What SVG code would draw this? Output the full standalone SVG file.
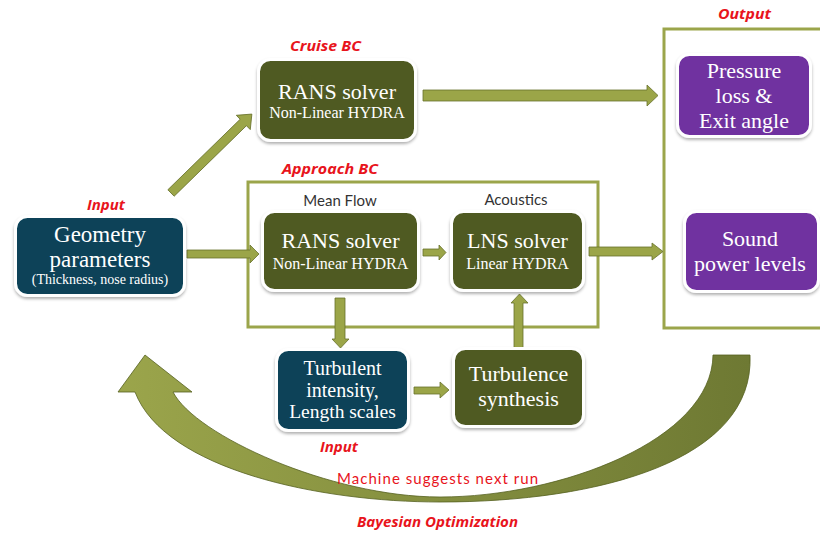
<svg xmlns="http://www.w3.org/2000/svg" width="820" height="534" viewBox="0 0 820 534">
<defs>
<filter id="sh" x="-10%" y="-10%" width="125%" height="130%">
<feDropShadow dx="0" dy="2" stdDeviation="1.6" flood-color="#000" flood-opacity="0.3"/>
</filter>
<linearGradient id="cg" x1="0" y1="0" x2="1" y2="0">
<stop offset="0" stop-color="#9ba54b"/>
<stop offset="1" stop-color="#6e7933"/>
</linearGradient>
</defs>
<style>
.box{stroke:#fff;stroke-width:3;filter:url(#sh)}
.teal{fill:#074359}
.olive{fill:#4f5a23}
.purple{fill:#7030a0}
.st{font-family:"Liberation Serif","Times New Roman",serif;fill:#fff;text-anchor:middle}
.red{font-family:"Open Sans","DejaVu Sans",sans-serif;font-weight:bold;font-style:italic;fill:#e8141c;text-anchor:middle;font-size:14px}
.lab{font-family:Lato,"Open Sans",sans-serif;fill:#333;text-anchor:middle;font-size:15px}
.arr{fill:#9ba548;stroke:#67712c;stroke-width:0.8}
.frame{fill:none;stroke:#9ba54b;stroke-width:3}
</style>
<rect width="820" height="534" fill="#fff"/>

<g id="frames">
<rect class="frame" x="248" y="182" width="350" height="145"/>
<rect class="frame" x="664" y="29" width="170" height="299"/>
</g>

<g id="connectors">
<path class="arr" d="M187 250 H250 V245 L259 254 L250 263 V258 H187 Z"/>
<path class="arr" d="M423 90 H647 V85 L658 95.5 L647 106 V101 H423 Z"/>
<path class="arr" d="M423 249 H439 V245 L446 252.5 L439 260 V256 H423 Z"/>
<path class="arr" d="M589 247 H652 V243 L663 251.5 L652 260 V256 H589 Z"/>
<path class="arr" d="M414 387 H440 V382 L449 390 L440 398 V394 H414 Z"/>
<path class="arr" d="M335 298 H345 V339 H349 L340.5 348 L332 339 H335 Z"/>
<path class="arr" d="M514 348 V303 H511 L519.5 294 L528 303 H523 V348 Z"/>
<path class="arr" transform="translate(171 193) rotate(-44.3)" d="M0 -4.5 H101 V-10 L113 0 L101 10 V4.5 H0 Z"/>
<path id="loop" fill="url(#cg)" stroke="#56611f" stroke-width="0.8" d="M145 355 L192 392 L173 392 C195 435 330 497 440 497 C560 497 712 440 713 355 L750 355 C755 460 600 502 440 502 C320 502 165 470 135 392 L118 392 Z"/>
</g>

<g id="geometry">
<rect class="box teal" x="15.5" y="216.5" width="169" height="79" rx="12"/>
<text class="st" x="100" y="242" font-size="23">Geometry</text>
<text class="st" x="100" y="267" font-size="23">parameters</text>
<text class="st" x="100" y="284" font-size="14">(Thickness, nose radius)</text>
</g>

<g id="cruise-rans">
<rect class="box olive" x="258.5" y="59.5" width="157" height="81" rx="12"/>
<text class="st" x="337" y="99" font-size="22">RANS solver</text>
<text class="st" x="337" y="118" font-size="16">Non-Linear HYDRA</text>
</g>

<g id="mean-rans">
<rect class="box olive" x="262.5" y="211.5" width="156" height="79" rx="12"/>
<text class="st" x="340.5" y="248" font-size="22">RANS solver</text>
<text class="st" x="340.5" y="269" font-size="16">Non-Linear HYDRA</text>
</g>

<g id="lns">
<rect class="box olive" x="451.5" y="211.5" width="132" height="79" rx="12"/>
<text class="st" x="517.5" y="248" font-size="22">LNS solver</text>
<text class="st" x="517.5" y="269" font-size="16">Linear HYDRA</text>
</g>

<g id="pressure">
<rect class="box purple" x="677.5" y="54.5" width="133" height="82" rx="12"/>
<text class="st" x="744" y="78" font-size="22">Pressure</text>
<text class="st" x="744" y="103" font-size="22">loss &amp;</text>
<text class="st" x="744" y="128" font-size="22">Exit angle</text>
</g>

<g id="sound">
<rect class="box purple" x="684.5" y="211.5" width="134" height="80" rx="12"/>
<text class="st" x="750" y="246" font-size="22">Sound</text>
<text class="st" x="750" y="271" font-size="22">power levels</text>
</g>

<g id="turbulent">
<rect class="box teal" x="276.5" y="349.5" width="132" height="81" rx="12"/>
<text class="st" x="342.5" y="375" font-size="20">Turbulent</text>
<text class="st" x="342.5" y="397" font-size="20">intensity,</text>
<text class="st" x="342.5" y="418" font-size="19.5">Length scales</text>
</g>

<g id="synthesis">
<rect class="box olive" x="453.5" y="348.5" width="130" height="78" rx="12"/>
<text class="st" x="518.5" y="381" font-size="22">Turbulence</text>
<text class="st" x="518.5" y="406" font-size="22">synthesis</text>
</g>

<g id="labels">
<text class="red" x="106" y="210" textLength="38" lengthAdjust="spacingAndGlyphs">Input</text>
<text class="red" x="325.5" y="51" textLength="71" lengthAdjust="spacingAndGlyphs">Cruise BC</text>
<text class="red" x="330" y="174" textLength="96" lengthAdjust="spacingAndGlyphs">Approach BC</text>
<text class="red" x="744.5" y="19" textLength="53" lengthAdjust="spacingAndGlyphs">Output</text>
<text class="red" x="339" y="452" textLength="38" lengthAdjust="spacingAndGlyphs">Input</text>
<text class="red" x="437.5" y="527" textLength="161" lengthAdjust="spacingAndGlyphs">Bayesian Optimization</text>
<text class="lab" x="340" y="206">Mean Flow</text>
<text class="lab" x="516" y="205">Acoustics</text>
<text class="lab" x="437.5" y="484" font-size="16" textLength="201" lengthAdjust="spacing" style="fill:#e8141c">Machine suggests next run</text>
</g>
</svg>
